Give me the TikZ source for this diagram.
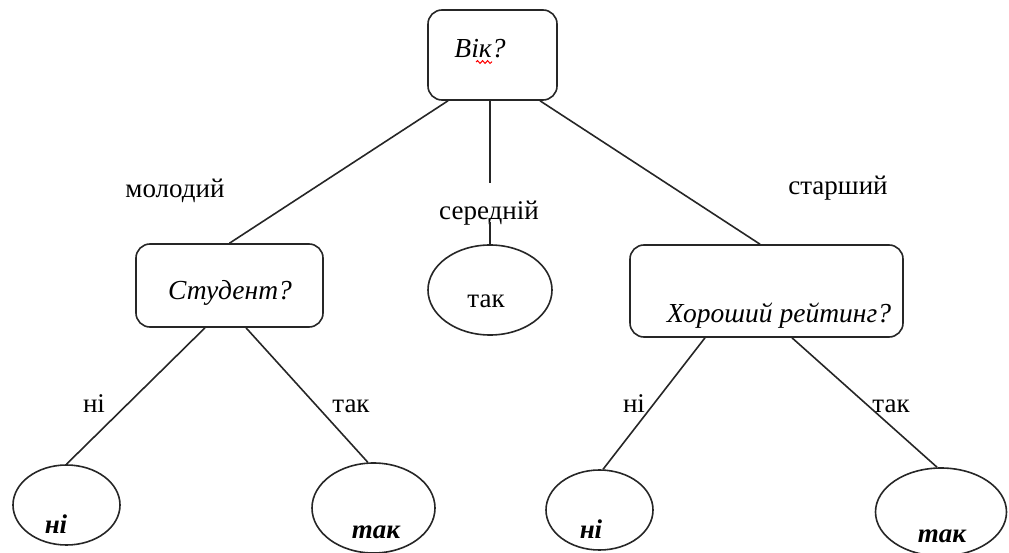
\documentclass[tikz,border=0pt]{standalone}
\usepackage{fontspec}
\setmainfont{Liberation Serif}
\usetikzlibrary{calc,shapes.geometric,decorations.pathmorphing}
\tikzset{
  qbox/.style={draw=black!85, line width=1.6pt, rounded corners=14pt, inner sep=0pt},
  leaf/.style={draw=black!85, line width=1.6pt, ellipse, inner sep=0pt},
  conn/.style={draw=black!85, line width=1.6pt},
  txt/.style={anchor=base, inner sep=0pt, font=\fontsize{27}{31}\selectfont},
  qtxt/.style={txt, font=\fontsize{27.5}{31}\selectfont\itshape},
  ltxt/.style={txt, font=\fontsize{27}{31}\selectfont\bfseries\itshape}
}
\begin{document}
\begin{tikzpicture}[x=1pt,y=-1pt]
\useasboundingbox (0,0) rectangle (1009,553);
% boxes
\node[qbox, minimum width=129pt, minimum height=90pt] (root) at (492.5,55) {};
\node[qbox, minimum width=187pt, minimum height=83pt] (s) at (229.5,285.5) {};
\node[qbox, minimum width=273pt, minimum height=92pt] (r) at (766.5,291) {};
% ellipses
\node[leaf, minimum width=124pt, minimum height=90pt] (m) at (490,290) {};
\node[leaf, minimum width=107pt, minimum height=80pt] (e1) at (66.5,505) {};
\node[leaf, minimum width=123pt, minimum height=90pt] (e2) at (373.5,508) {};
\node[leaf, minimum width=107pt, minimum height=80pt] (e3) at (599.5,510) {};
\node[leaf, minimum width=131pt, minimum height=88pt] (e4) at (941,512) {};
% texts in shapes
\node[qtxt] (troot) at (480,58) {Вік?};
\node[qtxt] (ts) at (230,300) {Студент?};
\node[qtxt] (tr) at (779,322) {Хороший рейтинг?};
\node[txt] (tm) at (486,308) {так};
\node[ltxt] (t1) at (56,533) {ні};
\node[ltxt] (t2) at (376,538) {так};
\node[ltxt] (t3) at (591,538) {ні};
\node[ltxt] (t4) at (942,542) {так};
% edge labels
\node[txt] (lmol) at (175,198) {молодий};
\node[txt] (lser) at (489,220) {середній};
\node[txt] (lsta) at (838,195) {старший};
\node[txt] (ln1) at (94,412) {ні};
\node[txt] (lt1) at (351,412) {так};
\node[txt] (ln2) at (634,412) {ні};
\node[txt] (lt2) at (891,412) {так};
% spell-check squiggle
\draw[red, line width=1pt, decorate, decoration={snake, amplitude=1.4pt, segment length=5pt}] (476,62) -- (492,62);
% connectors
\coordinate (m1) at (490,183);
\coordinate (m2) at (490,222);
\draw[conn] ($(root.south)+(-44.5,0)$) -- (s.north);
\draw[conn] ($(root.south)+(-2.5,0)$) -- (m1);
\draw[conn] (m2) -- (m.north);
\draw[conn] ($(root.south)+(47.5,0)$) -- ($(r.north)+(-6.5,0)$);
\draw[conn] ($(s.south)+(-24.5,0)$) -- (e1.north);
\draw[conn] ($(s.south)+(16.5,0)$) -- (e2.97);
\draw[conn] ($(r.south)+(-61.5,0)$) -- (e3.85);
\draw[conn] ($(r.south)+(25.5,0)$) -- (e4.95);
\end{tikzpicture}
\end{document}
